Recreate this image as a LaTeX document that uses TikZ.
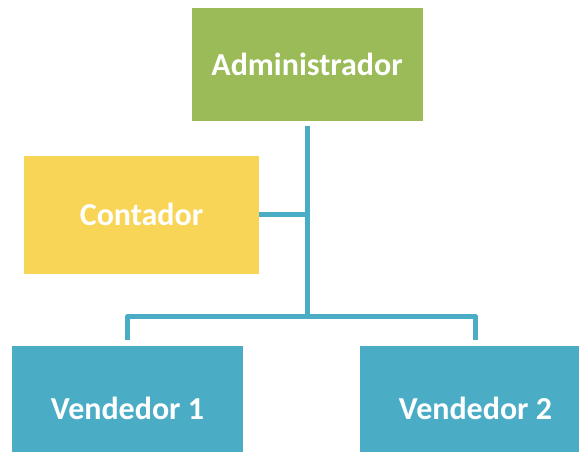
\documentclass[tikz,border=0pt]{standalone}
\usepackage{fontspec}
\setmainfont{Carlito}
\definecolor{admgreen}{HTML}{9BBB59}
\definecolor{contyellow}{HTML}{F8D556}
\definecolor{vendblue}{HTML}{4BACC6}
\begin{document}
\begin{tikzpicture}[x=1pt,y=-1pt,
  box/.style={rectangle, inner sep=0pt, text=white,
    font=\fontsize{32}{38}\selectfont\bfseries},
  conn/.style={draw=vendblue, line width=5pt, line join=round}]
\useasboundingbox (0,0) rectangle (579,452);
\clip (0,0) rectangle (579,452);
\node[box, fill=admgreen, minimum width=231pt, minimum height=112.5pt] (adm) at (307,64.3) {Administrador};
\node[box, fill=contyellow, minimum width=235pt, minimum height=118pt] (cont) at (141.5,214.5) {Contador};
\node[box, fill=vendblue, minimum width=231pt, minimum height=125pt] (v1) at (127.5,408.5) {Vendedor 1};
\node[box, fill=vendblue, minimum width=231pt, minimum height=125pt] (v2) at (475.5,408.5) {Vendedor 2};
\coordinate (j) at (307,316.5);
\draw[conn] ([yshift=-5.5pt]adm.south) -- (j);
\draw[conn] ([yshift=5.5pt]v1.north) |- (j) -| ([yshift=5.5pt]v2.north);
\draw[conn] (cont.east) -- (cont.east -| j);
\end{tikzpicture}
\end{document}
